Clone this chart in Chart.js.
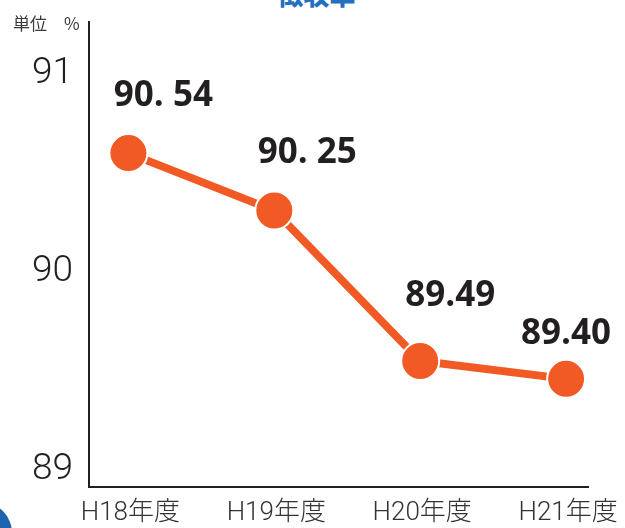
<!DOCTYPE html>
<html><head><meta charset="utf-8">
<script src="https://cdn.jsdelivr.net/npm/chart.js@4"></script>
<style>
html,body{margin:0;padding:0;background:#fff;overflow:hidden}
#wrap{position:relative;width:625px;height:528px}
#title{position:absolute;left:0;width:625px;top:-25px;text-align:center;font:900 26px "Noto Sans CJK JP";color:#2470c0;padding-left:4px}
#deco{position:absolute;left:-50px;top:502px;width:62px;height:62px;border-radius:50%;background:#1e63ae}
canvas{position:absolute;left:0;top:0}
</style></head>
<body><div id="wrap"><div id="title">徴収率</div><div id="deco"></div><canvas id="c" width="625" height="528"></canvas></div>
<script>
const categories = ["H18年度","H19年度","H20年度","H21年度"];
const values = [90.54, 90.25, 89.49, 89.40];
const valueLabels = ["90. 54","90. 25","89.49","89.40"];
const yTicks = [89, 90, 91];
const unitLabel = "単位　%";

const labelPlugin = {
  id:'labels',
  afterDatasetsDraw(chart, args, opts){
    const ctx = chart.ctx, xs = chart.scales.x, ys = chart.scales.y;
    ctx.save();
    ctx.font = 'bold 35px "Open Sans"';
    ctx.fillStyle = '#231f20';
    ctx.textAlign = 'center'; ctx.textBaseline = 'middle';
    values.forEach((v,i)=>{
      const o = opts.offsets[i];
      ctx.fillText(valueLabels[i], xs.getPixelForValue(i)+o[0], ys.getPixelForValue(v)+o[1]);
    });
    ctx.font = '17px "Noto Sans CJK JP"';
    ctx.fillStyle = '#3a3a3a';
    ctx.textAlign = 'left';
    ctx.fillText(unitLabel, 13, 24);
    ctx.restore();
  }
};

new Chart(document.getElementById('c'), {
  type:'line',
  data:{ datasets:[{
    data: values.map((v,i)=>({x:i,y:v})),
    borderColor:'#f15a24', borderWidth:8,
    pointRadius:19, pointBackgroundColor:'#f15a24',
    pointBorderColor:'#ffffff', pointBorderWidth:2,
    pointHoverRadius:19, tension:0
  }]},
  options:{
    responsive:false, animation:false,
    layout:{padding:{left:0,right:37,top:22,bottom:0}},
    plugins:{legend:{display:false}, tooltip:{enabled:false},
      labels:{offsets:[[35,-57],[33,-58],[30,-65],[0,-45]]}},
    scales:{
      x:{type:'linear', min:-0.27, max:3.15,
        afterBuildTicks(s){ s.ticks = categories.map((c,i)=>({value:i})); },
        ticks:{callback:(v)=>categories[v], font:{family:'Roboto,"Noto Sans CJK JP"', size:26, weight:300}, color:'#333', padding:11, maxRotation:0, autoSkip:false, labelOffset:2},
        grid:{display:false, drawTicks:false},
        border:{display:true, color:'#231f20', width:2},
        afterFit(s){ s.height = 41; s.paddingLeft = 0; s.paddingRight = 0; }
      },
      y:{min:88.854, max:91.202,
        afterBuildTicks(s){ s.ticks = yTicks.map(v=>({value:v})); },
        ticks:{font:{family:'Roboto', size:37, weight:300}, color:'#231f20', padding:16, labelOffset:12},
        grid:{display:false, drawTicks:false},
        border:{display:true, color:'#231f20', width:2},
        afterFit(s){ s.width = 89; s.paddingTop = 0; s.paddingBottom = 0; }
      }
    }
  },
  plugins:[labelPlugin]
});
</script></body></html>
